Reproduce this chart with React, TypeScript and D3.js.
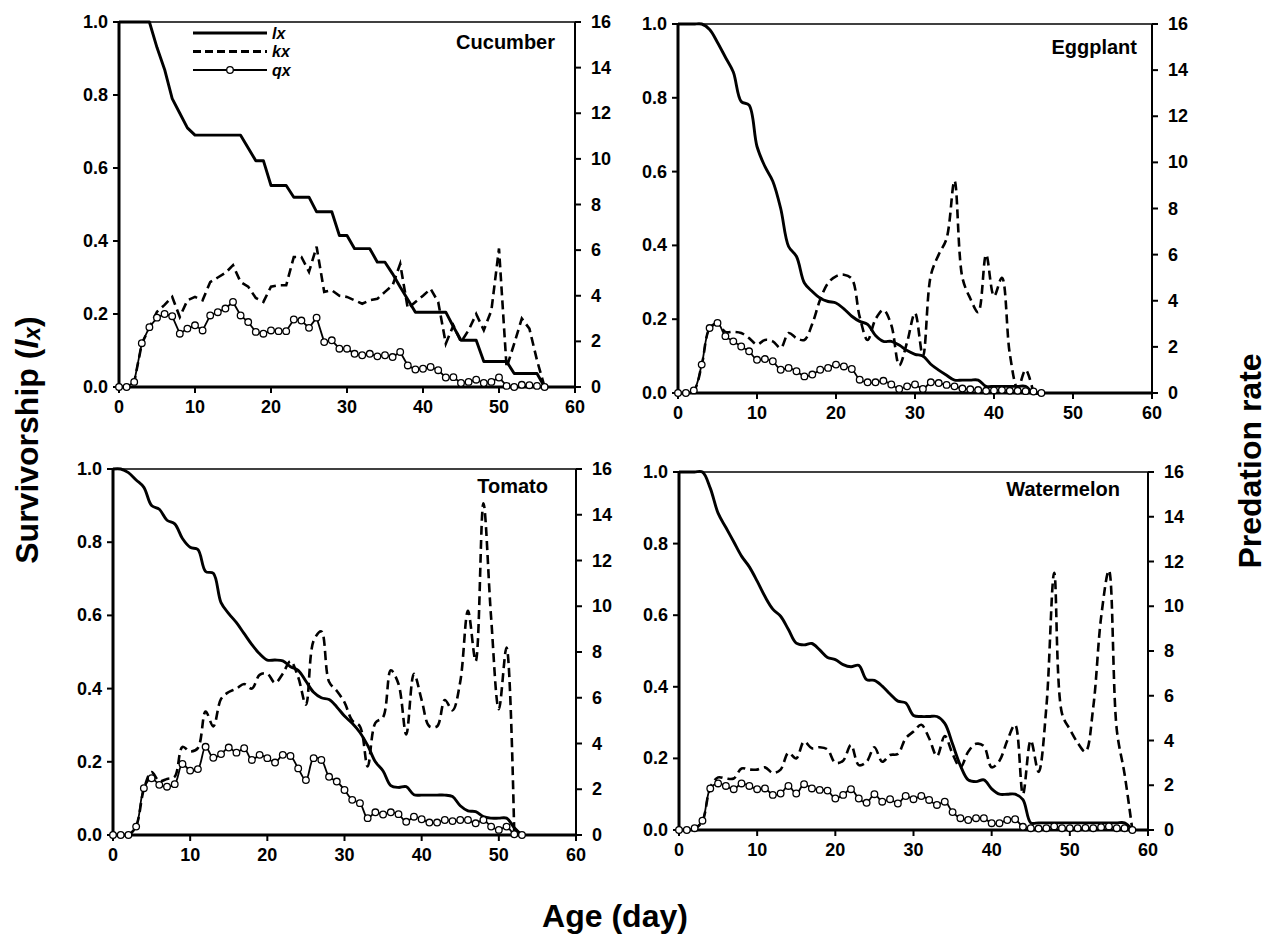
import React from "react";
import * as d3 from "d3";

const W = 1271;
const H = 936;

// ---------- data (day index = array index) ----------
const cucumberLx = [1, 1, 1, 1, 1, 0.93, 0.87, 0.79, 0.75, 0.71, 0.69, 0.69, 0.69, 0.69, 0.69, 0.69, 0.69, 0.655, 0.62, 0.62, 0.552, 0.552, 0.552, 0.52, 0.52, 0.52, 0.48, 0.48, 0.48, 0.415, 0.415, 0.379, 0.379, 0.379, 0.342, 0.342, 0.31, 0.274, 0.24, 0.205, 0.205, 0.205, 0.205, 0.205, 0.165, 0.128, 0.128, 0.128, 0.07, 0.07, 0.07, 0.07, 0.037, 0.037, 0.037, 0.037, 0];
const cucumberKx = [0, 0, 0.2, 1.9, 2.6, 3.3, 3.6, 3.95, 3.07, 3.8, 3.95, 3.8, 4.6, 4.8, 5.0, 5.34, 4.6, 4.4, 3.9, 3.73, 4.4, 4.46, 4.46, 5.7, 5.7, 5.05, 6.15, 4.17, 4.24, 4.0, 3.95, 3.8, 3.65, 3.8, 3.87, 4.17, 4.46, 5.4, 3.44, 3.73, 4.0, 4.3, 3.73, 1.9, 2.7, 1.97, 2.49, 3.2, 2.49, 3.36, 6.07, 0.85, 1.9, 3.0, 2.56, 1.17, 0];
const cucumberQx = [0, 0, 0.014, 0.12, 0.164, 0.19, 0.2, 0.194, 0.146, 0.16, 0.169, 0.155, 0.196, 0.205, 0.215, 0.233, 0.196, 0.178, 0.151, 0.146, 0.155, 0.153, 0.153, 0.185, 0.182, 0.162, 0.19, 0.123, 0.128, 0.105, 0.105, 0.091, 0.087, 0.091, 0.084, 0.087, 0.082, 0.096, 0.059, 0.048, 0.05, 0.055, 0.046, 0.026, 0.027, 0.011, 0.014, 0.02, 0.011, 0.014, 0.026, 0.003, 0, 0.006, 0.005, 0.003, 0];

const eggplantLx = [1, 1, 1, 1, 0.985, 0.95, 0.91, 0.87, 0.79, 0.78, 0.668, 0.614, 0.574, 0.5, 0.397, 0.37, 0.298, 0.275, 0.257, 0.248, 0.244, 0.228, 0.208, 0.194, 0.186, 0.156, 0.14, 0.14, 0.13, 0.115, 0.105, 0.1, 0.078, 0.062, 0.048, 0.035, 0.035, 0.035, 0.035, 0.018, 0.018, 0.018, 0.018, 0.018, 0.018, 0, 0];
const eggplantKx = [0, 0, 0.1, 1.2, 2.8, 3.0, 2.65, 2.65, 2.6, 2.38, 2.1, 2.3, 2.24, 1.95, 2.6, 2.38, 2.3, 3.0, 4.05, 4.77, 5.06, 5.13, 4.95, 3.3, 2.3, 3.2, 3.6, 2.95, 1.2, 2.2, 3.47, 1.6, 5.1, 6.0, 6.7, 9.2, 5.0, 4.1, 3.5, 6.0, 4.2, 5.0, 1.7, 0.2, 1.0, 0];
const eggplantQx = [0, 0, 0.007, 0.077, 0.176, 0.19, 0.154, 0.14, 0.126, 0.113, 0.09, 0.092, 0.086, 0.063, 0.068, 0.059, 0.045, 0.05, 0.063, 0.068, 0.077, 0.072, 0.065, 0.036, 0.029, 0.029, 0.033, 0.023, 0.011, 0.018, 0.023, 0.011, 0.029, 0.027, 0.022, 0.018, 0.012, 0.01, 0.008, 0.006, 0.007, 0.008, 0.006, 0.006, 0.005, 0.004, 0];

const tomatoLx = [1, 1, 0.99, 0.97, 0.95, 0.9, 0.89, 0.86, 0.85, 0.81, 0.786, 0.78, 0.72, 0.715, 0.635, 0.605, 0.58, 0.55, 0.52, 0.495, 0.478, 0.478, 0.476, 0.46, 0.45, 0.42, 0.39, 0.375, 0.37, 0.35, 0.325, 0.305, 0.28, 0.245, 0.2, 0.175, 0.135, 0.13, 0.132, 0.11, 0.109, 0.109, 0.109, 0.109, 0.105, 0.08, 0.066, 0.064, 0.05, 0.046, 0.046, 0.046, 0.02, 0];
const tomatoKx = [0, 0, 0, 0.4, 2.0, 2.75, 2.35, 2.45, 2.55, 3.85, 3.65, 3.8, 5.4, 4.75, 5.95, 6.25, 6.4, 6.6, 6.4, 7.0, 7.05, 6.65, 7.05, 7.6, 6.9, 5.7, 8.5, 8.9, 6.7, 6.3, 5.8, 5.0, 4.75, 3.0, 4.9, 5.15, 7.2, 6.6, 4.4, 7.05, 5.9, 4.75, 4.75, 5.9, 5.45, 6.7, 9.8, 7.6, 14.5, 9.5, 5.5, 8.2, 0];
const tomatoQx = [0, 0, 0, 0.023, 0.128, 0.155, 0.137, 0.132, 0.139, 0.194, 0.176, 0.18, 0.241, 0.211, 0.221, 0.239, 0.225, 0.237, 0.205, 0.219, 0.21, 0.198, 0.219, 0.216, 0.182, 0.15, 0.21, 0.205, 0.159, 0.146, 0.123, 0.096, 0.087, 0.046, 0.062, 0.056, 0.062, 0.057, 0.036, 0.05, 0.043, 0.034, 0.034, 0.041, 0.038, 0.041, 0.041, 0.032, 0.041, 0.023, 0.014, 0.023, 0.002, 0];

const watermelonLx = [1, 1, 1, 1, 0.955, 0.885, 0.845, 0.805, 0.765, 0.735, 0.695, 0.652, 0.617, 0.597, 0.56, 0.522, 0.517, 0.521, 0.503, 0.482, 0.476, 0.462, 0.456, 0.46, 0.42, 0.418, 0.402, 0.38, 0.36, 0.355, 0.32, 0.317, 0.317, 0.317, 0.298, 0.24, 0.18, 0.14, 0.135, 0.14, 0.115, 0.1, 0.1, 0.1, 0.085, 0.02, 0.02, 0.02, 0.02, 0.02, 0.02, 0.02, 0.02, 0.02, 0.02, 0.02, 0.02, 0.02, 0];
const watermelonKx = [0, 0, 0.05, 0.4, 1.9, 2.35, 2.3, 2.3, 2.75, 2.7, 2.7, 2.8, 2.55, 2.7, 3.45, 3.2, 3.95, 3.65, 3.7, 3.6, 3.0, 3.1, 3.8, 2.9, 3.05, 3.7, 3.05, 3.35, 3.4, 4.1, 4.4, 4.7, 4.1, 3.3, 4.2, 3.4, 2.8, 3.5, 3.85, 3.75, 2.8, 3.1, 4.0, 4.7, 1.6, 4.0, 2.6, 5.5, 11.5, 5.2, 4.5, 3.9, 3.5, 5.5, 9.5, 11.6, 4.5, 2.5, 0];
const watermelonQx = [0, 0, 0.005, 0.026, 0.116, 0.13, 0.123, 0.114, 0.13, 0.123, 0.114, 0.116, 0.098, 0.102, 0.123, 0.102, 0.128, 0.116, 0.112, 0.11, 0.088, 0.098, 0.114, 0.088, 0.076, 0.1, 0.079, 0.086, 0.074, 0.095, 0.086, 0.095, 0.084, 0.07, 0.079, 0.05, 0.033, 0.028, 0.033, 0.033, 0.019, 0.019, 0.028, 0.03, 0.009, 0.005, 0.004, 0.005, 0.01, 0.005, 0.005, 0.005, 0.006, 0.005, 0.008, 0.01, 0.005, 0.005, 0];

const xTicks = [0, 10, 20, 30, 40, 50, 60];
const leftTicks = [0, 0.2, 0.4, 0.6, 0.8, 1.0];
const rightTicks = [0, 2, 4, 6, 8, 10, 12, 14, 16];
const legendItems = ["lx", "kx", "qx"];

// ---------- layout ----------
const panels = [
  { name: "Cucumber", lx: cucumberLx, kx: cucumberKx, qx: cucumberQx, smooth: false, x0: 119, x1: 575, y0: 22, y1: 387, labelRight: 20, labelBase: 27, legend: true },
  { name: "Eggplant", lx: eggplantLx, kx: eggplantKx, qx: eggplantQx, smooth: true, x0: 678, x1: 1152, y0: 24, y1: 393, labelRight: 15, labelBase: 30, legend: false },
  { name: "Tomato", lx: tomatoLx, kx: tomatoKx, qx: tomatoQx, smooth: true, x0: 113, x1: 576, y0: 469, y1: 835, labelRight: 28, labelBase: 24, legend: false },
  { name: "Watermelon", lx: watermelonLx, kx: watermelonKx, qx: watermelonQx, smooth: true, x0: 679, x1: 1148, y0: 472, y1: 830, labelRight: 28, labelBase: 24, legend: false },
];

const FONT = "'Liberation Sans', Arial, Helvetica, sans-serif";
const DASH = "9,5";

function Panel({ p }: { p: any }) {
  const x = d3.scaleLinear().domain([0, 60]).range([p.x0, p.x1]);
  const yL = d3.scaleLinear().domain([0, 1]).range([p.y1, p.y0]);
  const yR = d3.scaleLinear().domain([0, 16]).range([p.y1, p.y0]);
  const curve = p.smooth ? d3.curveCatmullRom.alpha(0.5) : d3.curveLinear;
  const lineL = d3.line<number>().x((_, i) => x(i)).y((d) => yL(d)).curve(curve);
  const lineR = d3.line<number>().x((_, i) => x(i)).y((d) => yR(d)).curve(curve);
  const tick = 6;
  return (
    <g>
      {/* frame */}
      <line x1={p.x0} x2={p.x1} y1={p.y0} y2={p.y0} stroke="#000" strokeWidth={1.5} />
      <line x1={p.x1} x2={p.x1} y1={p.y0} y2={p.y1} stroke="#000" strokeWidth={2} />
      <line x1={p.x0} x2={p.x0} y1={p.y0 - 1} y2={p.y1 + 1.5} stroke="#000" strokeWidth={3} />
      <line x1={p.x0 - 1.5} x2={p.x1 + 1} y1={p.y1} y2={p.y1} stroke="#000" strokeWidth={3} />
      {/* x ticks */}
      {xTicks.map((t) => (
        <g key={"x" + t}>
          <line x1={x(t)} x2={x(t)} y1={p.y1} y2={p.y1 + tick} stroke="#000" strokeWidth={2} />
          <text x={x(t)} y={p.y1 + 20} textAnchor="middle" dominantBaseline="central" fontSize={18} fontWeight="bold" fontFamily={FONT}>{t}</text>
        </g>
      ))}
      {/* left ticks */}
      {leftTicks.map((t) => (
        <g key={"l" + t}>
          <line x1={p.x0 - tick} x2={p.x0} y1={yL(t)} y2={yL(t)} stroke="#000" strokeWidth={2} />
          <text x={p.x0 - 11} y={yL(t)} textAnchor="end" dominantBaseline="central" fontSize={18} fontWeight="bold" fontFamily={FONT}>{t.toFixed(1)}</text>
        </g>
      ))}
      {/* right ticks */}
      {rightTicks.map((t) => (
        <g key={"r" + t}>
          <line x1={p.x1} x2={p.x1 + tick} y1={yR(t)} y2={yR(t)} stroke="#000" strokeWidth={2} />
          <text x={p.x1 + 16} y={yR(t)} textAnchor="start" dominantBaseline="central" fontSize={18} fontWeight="bold" fontFamily={FONT}>{t}</text>
        </g>
      ))}
      {/* series */}
      <path d={lineL(p.lx) || ""} fill="none" stroke="#000" strokeWidth={2.9} strokeLinejoin="round" />
      <path d={lineR(p.kx) || ""} fill="none" stroke="#000" strokeWidth={2.6} strokeDasharray={DASH} />
      <path d={lineL(p.qx) || ""} fill="none" stroke="#000" strokeWidth={1.8} />
      {p.qx.map((v: number, i: number) => (
        <circle key={"c" + i} cx={x(i)} cy={yL(v)} r={3.3} fill="#fff" stroke="#000" strokeWidth={1.3} />
      ))}
      {/* panel label */}
      <text x={p.x1 - p.labelRight} y={p.y0 + p.labelBase} textAnchor="end" fontSize={20} fontWeight="bold" fontFamily={FONT}>{p.name}</text>
      {p.legend && (
        <g>
          {legendItems.map((k, i) => {
            const yy = 33 + i * 18.5;
            return (
              <g key={k}>
                <line x1={193} x2={267} y1={yy} y2={yy} stroke="#000"
                  strokeWidth={k === "qx" ? 1.8 : 2.9}
                  strokeDasharray={k === "kx" ? "8,4" : undefined} />
                {k === "qx" && <circle cx={230} cy={yy} r={3.3} fill="#fff" stroke="#000" strokeWidth={1.3} />}
                <text x={272} y={yy} dominantBaseline="central" fontSize={16} fontWeight="bold" fontStyle="italic" fontFamily={FONT}>{k}</text>
              </g>
            );
          })}
        </g>
      )}
    </g>
  );
}

export default function App() {
  return (
    <div style={{ position: "absolute", left: 0, top: 0, width: W, height: H, background: "#fff" }}>
      <svg width={W} height={H} viewBox={`0 0 ${W} ${H}`}>
        <rect x={0} y={0} width={W} height={H} fill="#fff" />
        {panels.map((p) => <Panel key={p.name} p={p} />)}
        <text transform="translate(27,440) rotate(-90)" textAnchor="middle" dominantBaseline="central" fontSize={32} fontWeight="bold" fontFamily={FONT}>
          Survivorship (<tspan fontStyle="italic">l</tspan><tspan fontStyle="italic" fontSize={23} dy={5}>x</tspan><tspan dy={-5}>)</tspan>
        </text>
        <text transform="translate(1250,461) rotate(-90)" textAnchor="middle" dominantBaseline="central" fontSize={32} fontWeight="bold" fontFamily={FONT}>Predation rate</text>
        <text x={615} y={916} textAnchor="middle" dominantBaseline="central" fontSize={32} fontWeight="bold" fontFamily={FONT}>Age (day)</text>
      </svg>
    </div>
  );
}
